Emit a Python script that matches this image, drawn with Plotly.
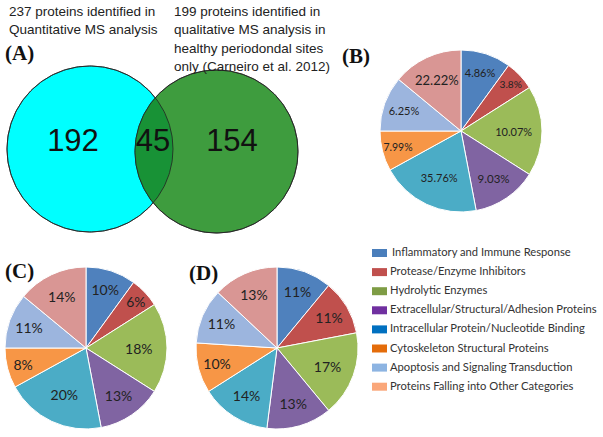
import numpy as np
import plotly.graph_objects as go

W, H = 603, 437

# ---------------- data ----------------
categories = [
    "Inflammatory and Immune Response",
    "Protease/Enzyme Inhibitors",
    "Hydrolytic Enzymes",
    "Extracellular/Structural/Adhesion Proteins",
    "Intracellular Protein/Nucleotide Binding",
    "Cytoskeleton Structural Proteins",
    "Apoptosis and Signaling Transduction",
    "Proteins Falling into Other Categories",
]
pie_b_values = [10, 6, 18, 13, 20, 8, 11, 14]
pie_b_labels = ["4.86%", "3.8%", "10.07%", "9.03%", "35.76%", "7.99%", "6.25%", "22.22%"]
pie_c_values = [10, 6, 18, 13, 20, 8, 11, 14]
pie_d_values = [11, 11, 17, 13, 14, 10, 11, 13]

venn_counts = [192, 45, 154]
venn_left_title = ["237 proteins identified in", "Quantitative MS analysis"]
venn_right_title = ["199 proteins identified in", "qualitative MS analysis in",
                    "healthy periodondal sites", "only (Carneiro et al. 2012)"]

# ---------------- styles ----------------
pie_colors = ["#4F81BD", "#C0504D", "#9BBB59", "#8064A2",
              "#4BACC6", "#F79646", "#9CB5DE", "#D99694"]
legend_colors = ["#4A7EBB", "#C0504D", "#7E9C45", "#7030A0",
                 "#0070C0", "#E46C0A", "#8DB4E2", "#FAA77A"]
b_font_sizes = [11, 14, 11, 11.5, 11, 12, 11, 13]
label_font = "Lato, 'Liberation Sans', sans-serif"

fig = go.Figure()

# ---------------- Venn diagram (pixel coordinates) ----------------
A = dict(cx=90.0, cy=149.0, r=83.0)
B = dict(cx=216.5, cy=151.5, r=81.5)


def circle_pts(c, t0=0.0, t1=2 * np.pi, n=240):
    t = np.linspace(t0, t1, n)
    return c["cx"] + c["r"] * np.cos(t), c["cy"] + c["r"] * np.sin(t)


ax_, ay_ = circle_pts(A)
bx_, by_ = circle_pts(B)
fig.add_trace(go.Scatter(x=ax_, y=ay_, fill="toself", fillcolor="#00FFFF", mode="lines",
                         line=dict(color="#222", width=0.8), hoverinfo="skip", showlegend=False))
fig.add_trace(go.Scatter(x=bx_, y=by_, fill="toself", fillcolor="rgb(62,156,62)", mode="lines",
                         line=dict(color="#222", width=0.8), hoverinfo="skip", showlegend=False))

# lens (intersection)
dx, dy = B["cx"] - A["cx"], B["cy"] - A["cy"]
d = np.hypot(dx, dy)
th = np.arctan2(dy, dx)
al_a = np.arccos((d ** 2 + A["r"] ** 2 - B["r"] ** 2) / (2 * d * A["r"]))
al_b = np.arccos((d ** 2 + B["r"] ** 2 - A["r"] ** 2) / (2 * d * B["r"]))
la_x, la_y = circle_pts(A, th - al_a, th + al_a, 80)
lb_x, lb_y = circle_pts(B, th + np.pi - al_b, th + np.pi + al_b, 80)
if np.hypot(lb_x[0] - la_x[-1], lb_y[0] - la_y[-1]) > np.hypot(lb_x[-1] - la_x[-1], lb_y[-1] - la_y[-1]):
    lb_x, lb_y = lb_x[::-1], lb_y[::-1]
fig.add_trace(go.Scatter(x=np.concatenate([la_x, lb_x]), y=np.concatenate([la_y, lb_y]),
                         fill="toself", fillcolor="rgb(24,146,54)", mode="lines",
                         line=dict(width=0), hoverinfo="skip", showlegend=False))
for xs, ys in [(ax_, ay_), (bx_, by_)]:
    fig.add_trace(go.Scatter(x=xs, y=ys, mode="lines", line=dict(color="#222", width=0.8),
                             hoverinfo="skip", showlegend=False))

fig.add_trace(go.Scatter(
    x=[73, 153, 232], y=[143, 143, 143], mode="text",
    text=[str(v) for v in venn_counts],
    textfont=dict(family="Liberation Sans, Arial", size=31, color="#111"),
    hoverinfo="skip", showlegend=False))

# ---------------- pies ----------------
def dom(cx, cy, r):
    return dict(x=[(cx - r) / W, (cx + r) / W], y=[1 - (cy + r) / H, 1 - (cy - r) / H])


common = dict(sort=False, direction="clockwise", rotation=0, textinfo="text",
              textposition="inside", insidetextorientation="horizontal",
              marker=dict(colors=pie_colors, line=dict(color="white", width=1)),
              showlegend=False, hoverinfo="skip")

fig.add_trace(go.Pie(values=pie_b_values, labels=categories, text=pie_b_labels,
                     textfont=dict(family=label_font, size=b_font_sizes, color="#222"),
                     domain=dom(461, 131, 81), **common))
fig.add_trace(go.Pie(values=pie_c_values, labels=categories,
                     text=[f"{v}%" for v in pie_c_values],
                     textfont=dict(family=label_font, size=14, color="#222"),
                     domain=dom(86, 348, 81), **common))
fig.add_trace(go.Pie(values=pie_d_values, labels=categories,
                     text=[f"{v}%" for v in pie_d_values],
                     textfont=dict(family=label_font, size=14, color="#222"),
                     domain=dom(277, 348, 81), **common))

# ---------------- annotations ----------------
ann = []
title_font = dict(family="Liberation Sans, Arial", size=13.5, color="#222")
for block_x, lines in [(7, venn_left_title), (172, venn_right_title)]:
    for j, line in enumerate(lines):
        ann.append(dict(x=block_x, y=11 + j * 18.5, xanchor="left", yanchor="middle",
                        text=line, showarrow=False, font=title_font))
for lab, (x, y) in zip(["(A)", "(B)", "(C)", "(D)"],
                       [(19, 53), (356, 56), (19, 271), (203, 273)]):
    ann.append(dict(x=x, y=y, xanchor="center", yanchor="middle", text=f"<b>{lab}</b>",
                    showarrow=False,
                    font=dict(family="Liberation Serif, Times New Roman", size=21, color="#111")))

shapes = []
legend_y0, legend_dy = 253, 19.1
for i, (cat, col) in enumerate(zip(categories, legend_colors)):
    yc = legend_y0 + i * legend_dy
    shapes.append(dict(type="rect", xref="x", yref="y", x0=372, x1=387, y0=yc - 4, y1=yc + 4,
                       fillcolor=col, line=dict(width=0)))
    ann.append(dict(x=388 if i else 390, y=yc - 1.5, xanchor="left", yanchor="middle", text=cat,
                    showarrow=False, font=dict(family=label_font, size=11.2, color="#333")))

fig.update_layout(
    width=W, height=H, autosize=False,
    margin=dict(l=0, r=0, t=0, b=0),
    paper_bgcolor="white", plot_bgcolor="white",
    xaxis=dict(range=[0, W], domain=[0, 1], visible=False, fixedrange=True),
    yaxis=dict(range=[H, 0], domain=[0, 1], visible=False, fixedrange=True),
    annotations=ann, shapes=shapes,
)

fig.write_html("out.html", config={"displayModeBar": False},
               post_script="document.body.style.margin='0';")
